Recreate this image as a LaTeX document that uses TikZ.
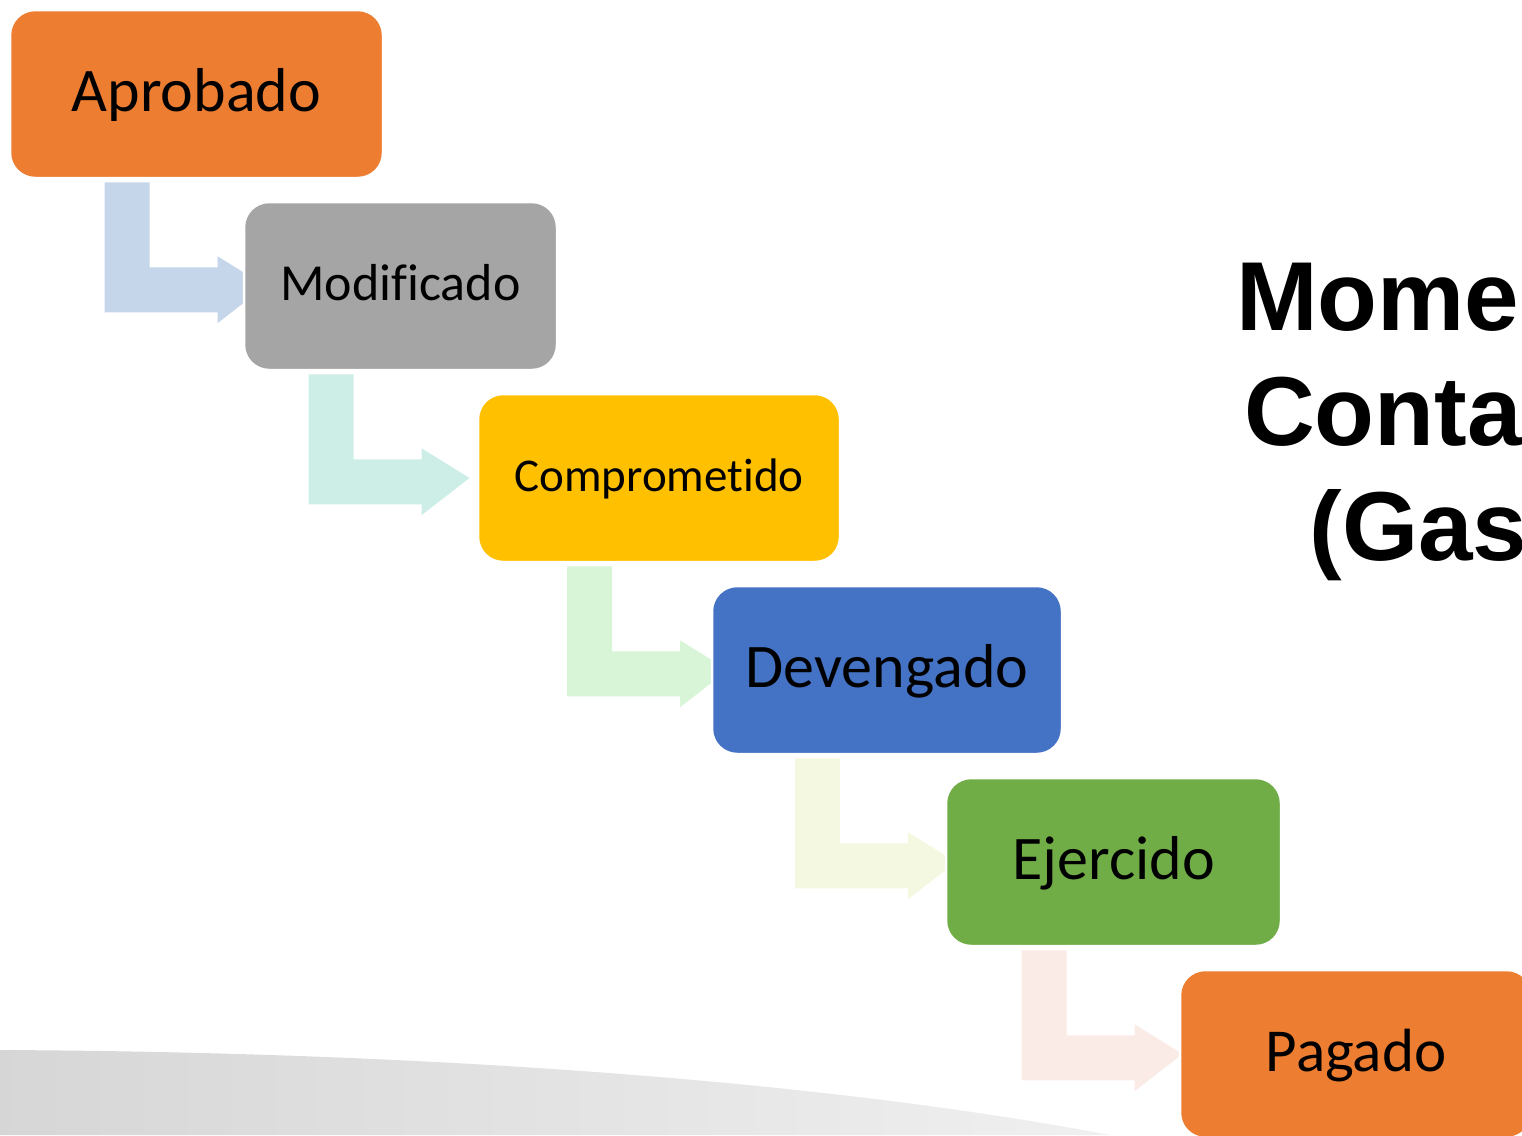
\documentclass[tikz,border=0pt]{standalone}
\usepackage{fontspec}
\setmainfont[Ligatures=NoCommon]{Carlito}
\newfontfamily\titlefont{Liberation Sans}
\usetikzlibrary{calc}

\definecolor{boxOrange}{HTML}{ED7D31}
\definecolor{boxGray}{HTML}{A5A5A5}
\definecolor{boxYellow}{HTML}{FFC000}
\definecolor{boxBlue}{HTML}{4472C4}
\definecolor{boxGreen}{HTML}{70AD47}
\definecolor{arrBlue}{HTML}{C5D5EA}
\definecolor{arrTeal}{HTML}{CCEEE7}
\definecolor{arrGreen}{HTML}{D9F5D7}
\definecolor{arrLime}{HTML}{F4F8E0}
\definecolor{arrRose}{HTML}{FBEBE6}

\pgfdeclarelayer{back}
\pgfsetlayers{back,main}

\begin{document}
\begin{tikzpicture}[x=1pt,y=-1pt,
    momento/.style 2 args={draw=white, line width=2.5pt, rounded corners=25pt,
        minimum height=168pt, inner sep=0pt, text=black, fill=#1,
        font=\fontsize{#2}{#2}\selectfont,
        text height={0.76*#2}, text depth={0.2*#2}},
    titulo/.style={anchor=base, font=\titlefont\bfseries\fontsize{98}{115}\selectfont}]

    \useasboundingbox (0,0) rectangle (1522,1135);
    \clip (0,0) rectangle (1522,1135);

    % los momentos
    \node[momento={boxOrange}{62}, minimum width=373pt] (apr) at (196.5,94) {Aprobado};
    \node[momento={boxGray}{52}, minimum width=313pt] (mod) at (400.5,286) {Modificado};
    \node[momento={boxYellow}{47}, minimum width=362pt] (com) at (659,478) {Comprometido};
    \node[momento={boxBlue}{62}, minimum width=350pt] (dev) at (887,670) {Devengado};
    \node[momento={boxGreen}{62}, minimum width=335pt] (eje) at (1113.5,862) {Ejercido};
    \node[momento={boxOrange}{61}, minimum width=352pt] (pag) at (1356,1054) {Pagado};

    % flechas dobladas, debajo de las cajas
    \begin{pgfonlayer}{back}
    \shade[left color=gray!32, right color=gray!12] (0,1050) .. controls (420,1052) and (820,1080) .. (1110,1135) -- (0,1135) -- cycle;
    \foreach \a/\b/\col in {apr/mod/arrBlue, mod/com/arrTeal, com/dev/arrGreen, dev/eje/arrLime, eje/pag/arrRose}
        \fill[\col] ($(\a.south)+(-92,3)$) -- ++(45,0) -- ++(0,85) -- ++(68,0) -- ++(0,-11)
            -- ([xshift=69pt]\a.south |- \b.west) -- ($(\a.south)+(21,144)$) -- ++(0,-11)
            -- ($(\a.south)+(-92,133)$) -- cycle;
    \end{pgfonlayer}

    % titulo
    \node[titulo] (t1) at (1481,330) {Momentos};
    \node[titulo] (t2) at (1481,445) {Contables};
    \node[titulo] (t3) at (1481,560) {(Gasto)};

\end{tikzpicture}
\end{document}
